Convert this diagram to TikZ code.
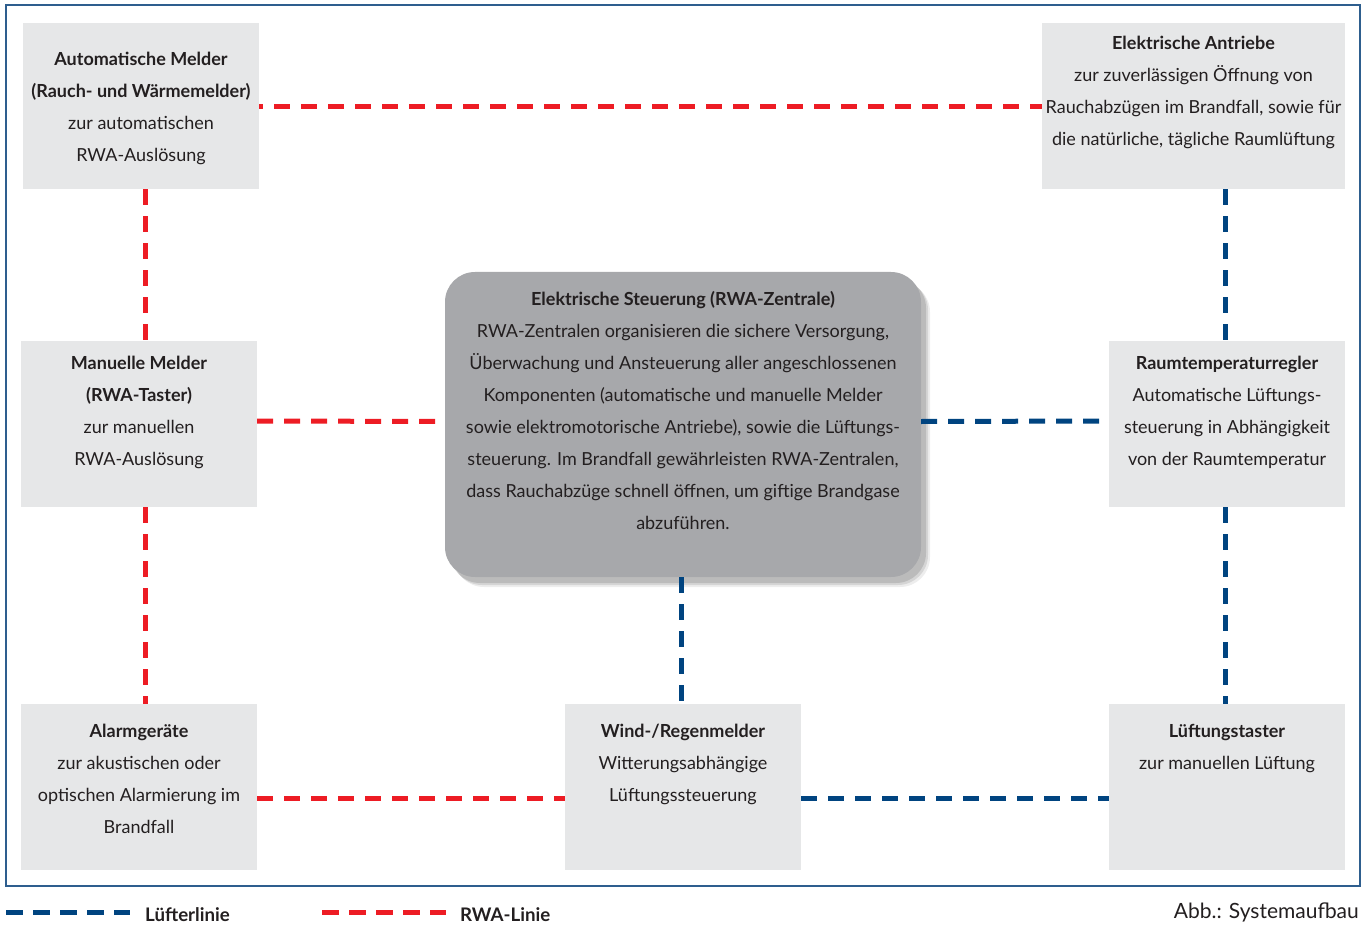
\documentclass[tikz,border=0pt]{standalone}
\usepackage{fontspec}
\setmainfont{Lato}
\usepackage{tikz}
\usetikzlibrary{positioning,shadows}
\usepackage{xcolor}
\definecolor{boxgray}{RGB}{230,231,232}
\definecolor{centralgray}{RGB}{167,168,171}
\definecolor{rwared}{RGB}{237,28,36}
\definecolor{fanblue}{RGB}{0,68,128}
\definecolor{framecol}{RGB}{46,94,142}
\definecolor{inkgray}{RGB}{35,31,32}

\begin{document}
\begin{tikzpicture}[x=1pt,y=-1pt,
  partbox/.style={rectangle,fill=boxgray,inner sep=0pt,minimum width=236pt,minimum height=166pt},
  parttext/.style={anchor=base,align=center,inner sep=0pt,text=inkgray,font=\fontsize{18}{32}\selectfont},
  rwaline/.style={rwared,line width=5pt,dash pattern=on 16pt off 11pt},
  fanline/.style={fanblue,line width=5pt,dash pattern=on 16pt off 11pt},
  legendline/.style={line width=5pt,dash pattern=on 17pt off 10pt}]
\useasboundingbox (0,0) rectangle (1365,925);
\draw[framecol,line width=1.5pt] (6,5) rectangle (1360,886);

\node[partbox] (auto) at (141,106) {};
\node[partbox,minimum width=303pt] (antrieb) at (1193.5,106) {};
\node[partbox] (manuell) at (139,424) {};
\node[partbox] (raumtemp) at (1227,424) {};
\node[partbox] (alarm) at (139,787) {};
\node[partbox] (wind) at (683,787) {};
\node[partbox] (taster) at (1227,787) {};
\node[rectangle,rounded corners=30pt,fill=centralgray,minimum width=476pt,minimum height=305pt,
  drop shadow={shadow xshift=9pt,shadow yshift=-10pt,opacity=0.07,fill=black},
  drop shadow={shadow xshift=7pt,shadow yshift=-8pt,opacity=0.1,fill=black},
  drop shadow={shadow xshift=5pt,shadow yshift=-6pt,opacity=0.12,fill=black}] (zentrale) at (683,424.5) {};

\draw[rwaline,dash phase=12pt] ([yshift=-1pt]auto.east) -- ([yshift=-1pt]antrieb.west);
\draw[rwaline] ([xshift=4pt]auto.south) -- ([xshift=6pt]manuell.north);
\draw[rwaline] ([xshift=6pt]manuell.south) -- ([xshift=6pt]alarm.north);
\draw[rwaline] ([yshift=3pt]manuell.east) -- ([yshift=3pt]zentrale.west);
\draw[rwaline] ([yshift=-11pt]alarm.east) -- ([yshift=-11pt]wind.west);
\draw[fanline] ([xshift=-2pt]raumtemp.north |- antrieb.south) -- ([xshift=-2pt]raumtemp.north);
\draw[fanline] ([yshift=3pt]zentrale.east) -- ([yshift=3pt]raumtemp.west);
\draw[fanline] ([xshift=-2pt]raumtemp.south) -- ([xshift=-2pt]taster.north);
\draw[fanline] ([xshift=-2pt]zentrale.south) -- ([xshift=-2pt]wind.north);
\draw[fanline] ([yshift=-11pt]wind.east) -- ([yshift=-11pt]taster.west);

\node[parttext] (autotext) at ([yshift=-139pt]auto.north) {\textbf{Automatische Melder}\\\textbf{(Rauch- und Wärmemelder)}\\zur automatischen\\RWA-Auslösung};
\node[parttext] (antriebtext) at ([yshift=-123pt]antrieb.north) {\textbf{Elektrische Antriebe}\\zur zuverlässigen Öffnung von\\Rauchabzügen im Brandfall, sowie für\\die natürliche, tägliche Raumlüftung};
\node[parttext] (manuelltext) at ([yshift=-125pt]manuell.north) {\textbf{Manuelle Melder}\\\textbf{(RWA-Taster)}\\zur manuellen\\RWA-Auslösung};
\node[parttext] (raumtemptext) at ([yshift=-125pt]raumtemp.north) {\textbf{Raumtemperaturregler}\\Automatische Lüftungs-\\steuerung in Abhängigkeit\\von der Raumtemperatur};
\node[parttext] (alarmtext) at ([yshift=-130pt]alarm.north) {\textbf{Alarmgeräte}\\zur akustischen oder\\optischen Alarmierung im\\Brandfall};
\node[parttext] (windtext) at ([yshift=-98pt]wind.north) {\textbf{Wind-/Regenmelder}\\Witterungsabhängige\\Lüftungssteuerung};
\node[parttext] (tastertext) at ([yshift=-66pt]taster.north) {\textbf{Lüftungstaster}\\zur manuellen Lüftung};
\node[parttext] (zentraletext) at ([yshift=-258pt]zentrale.north) {\textbf{Elektrische Steuerung (RWA-Zentrale)}\\RWA-Zentralen organisieren die sichere Versorgung,\\Überwachung und Ansteuerung aller angeschlossenen\\Komponenten (automatische und manuelle Melder\\sowie elektromotorische Antriebe), sowie die Lüftungs-\\steuerung. Im Brandfall gewährleisten RWA-Zentralen,\\dass Rauchabzüge schnell öffnen, um giftige Brandgase\\abzuführen.};

\node[anchor=base west,inner sep=0pt,text=inkgray,font=\fontsize{18.7}{20}\selectfont\bfseries] (fanlegend) at (145,921) {Lüfterlinie};
\node[anchor=base west,inner sep=0pt,text=inkgray,font=\fontsize{18.7}{20}\selectfont\bfseries] (rwalegend) at (460,921) {RWA-Linie};
\coordinate (fanstart) at (6,912);
\coordinate (fanend) at (130,912);
\coordinate (rwastart) at (322,912);
\coordinate (rwaend) at (446,912);
\draw[legendline,fanblue] (fanstart) -- (fanend);
\draw[legendline,rwared] (rwastart) -- (rwaend);
\node[anchor=base east,inner sep=0pt,text=inkgray,font=\fontsize{21}{24}\selectfont] (caption) at (1359,918) {Abb.: Systemaufbau};
\end{tikzpicture}
\end{document}
